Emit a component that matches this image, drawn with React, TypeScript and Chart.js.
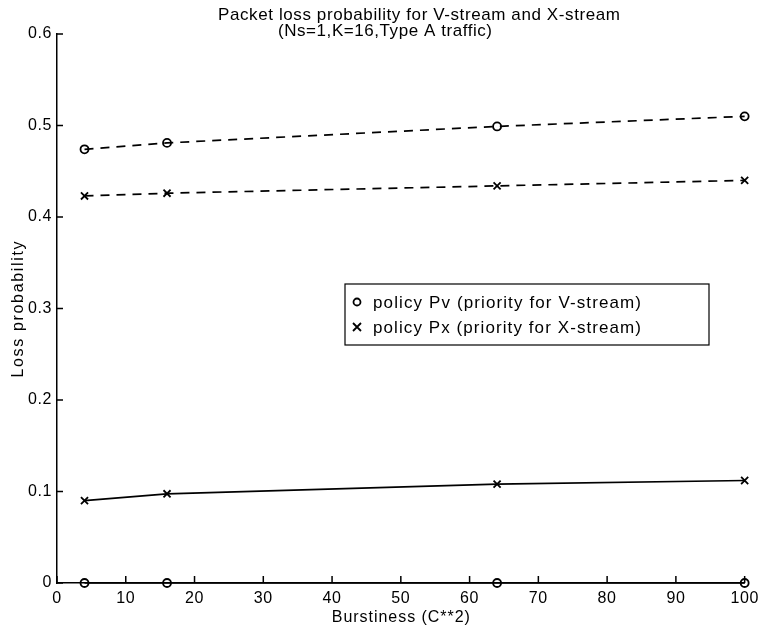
import React, { useEffect, useRef } from 'react';
import { Chart, registerables } from 'chart.js';

Chart.register(...registerables);

const xValues = [4, 16, 64, 100];
const pvVStream = [0.474, 0.481, 0.499, 0.510];
const pvXStream = [0, 0, 0, 0];
const pxXStream = [0.423, 0.426, 0.434, 0.440];
const pxVStream = [0.090, 0.0975, 0.108, 0.112];

const titleLines = ['Packet loss probability for V-stream and X-stream', '(Ns=1,K=16,Type A traffic)'];
const legendLabels = ['policy Pv (priority for V-stream)', 'policy Px (priority for X-stream)'];
const xTitle = 'Burstiness (C**2)';
const yTitle = 'Loss probability';

const FONT = '"Liberation Sans", Arial, Helvetica, sans-serif';

function drawMarker(ctx: CanvasRenderingContext2D, style: string, x: number, y: number, r: number) {
  ctx.beginPath();
  if (style === 'circle') {
    ctx.arc(x, y, r, 0, Math.PI * 2);
  } else {
    ctx.moveTo(x - r, y - r);
    ctx.lineTo(x + r, y + r);
    ctx.moveTo(x - r, y + r);
    ctx.lineTo(x + r, y - r);
  }
  ctx.stroke();
}

// draw text stretched to a target width with letter spacing
function spacedText(ctx: any, text: string, x: number, y: number, targetWidth: number, align: 'left' | 'center') {
  ctx.letterSpacing = '0px';
  const w = ctx.measureText(text).width;
  const sp = Math.max(0, (targetWidth - w) / Math.max(1, text.length - 1));
  ctx.letterSpacing = sp + 'px';
  ctx.textAlign = 'left';
  const startX = align === 'center' ? x - targetWidth / 2 : x;
  ctx.fillText(text, startX, y);
  ctx.letterSpacing = '0px';
}

const decorPlugin = {
  id: 'decor',
  beforeDraw(chart: any) {
    chart.ctx.letterSpacing = '0.6px';
  },
  afterDraw(chart: any) {
    const { ctx, chartArea, scales } = chart;
    ctx.letterSpacing = '0px';
    const xs = scales.x;
    const ys = scales.y;
    ctx.save();
    ctx.strokeStyle = '#000';
    ctx.fillStyle = '#000';
    ctx.lineWidth = 1.5;
    // inward ticks
    ctx.beginPath();
    xs.ticks.forEach((t: any) => {
      const px = xs.getPixelForValue(t.value);
      ctx.moveTo(px, chartArea.bottom);
      ctx.lineTo(px, chartArea.bottom - 7);
    });
    ys.ticks.forEach((t: any) => {
      const py = ys.getPixelForValue(t.value);
      ctx.moveTo(chartArea.left, py);
      ctx.lineTo(chartArea.left + 6, py);
    });
    ctx.stroke();

    ctx.font = '17px ' + FONT;
    ctx.textBaseline = 'alphabetic';
    // title
    spacedText(ctx, titleLines[0], 419, 20, 402, 'center');
    spacedText(ctx, titleLines[1], 385, 36, 214, 'center');

    // axis titles
    ctx.font = '16px ' + FONT;
    spacedText(ctx, xTitle, (chartArea.left + chartArea.right) / 2, 622, 138, 'center');
    ctx.save();
    ctx.translate(23, (chartArea.top + chartArea.bottom) / 2 + 1);
    ctx.rotate(-Math.PI / 2);
    spacedText(ctx, yTitle, 0, 0, 136, 'center');
    ctx.restore();

    // legend
    ctx.font = '17px ' + FONT;
    const bx = 345, by = 284, bw = 364, bh = 61;
    ctx.lineWidth = 1.2;
    ctx.strokeRect(bx, by, bw, bh);
    const styles = ['circle', 'crossRot'];
    const rowsY = [302, 327];
    ctx.textBaseline = 'middle';
    legendLabels.forEach((lab, i) => {
      ctx.lineWidth = 1.8;
      drawMarker(ctx, styles[i], 357, rowsY[i], styles[i] === 'circle' ? 3.5 : 4);
      spacedText(ctx, lab, 373, rowsY[i] + 1, 268, 'left');
    });
    ctx.restore();
  },
};

export default function App() {
  const ref = useRef<HTMLCanvasElement | null>(null);
  useEffect(() => {
    if (!ref.current) return;
    const common = {
      borderColor: '#000',
      pointBorderColor: '#000',
      pointBackgroundColor: 'rgba(0,0,0,0)',
      borderWidth: 1.7,
      pointBorderWidth: 1.8,
      clip: false as any,
      tension: 0,
    };
    const chart = new Chart(ref.current, {
      type: 'line',
      data: {
        datasets: [
          { ...common, label: 'Pv V', data: xValues.map((x, i) => ({ x, y: pvVStream[i] })), borderDash: [9, 7], pointStyle: 'circle', pointRadius: 4 },
          { ...common, label: 'Pv X', data: xValues.map((x, i) => ({ x, y: pvXStream[i] })), pointStyle: 'circle', pointRadius: 4 },
          { ...common, label: 'Px X', data: xValues.map((x, i) => ({ x, y: pxXStream[i] })), borderDash: [9, 7], pointStyle: 'crossRot', pointRadius: 5 },
          { ...common, label: 'Px V', data: xValues.map((x, i) => ({ x, y: pxVStream[i] })), pointStyle: 'crossRot', pointRadius: 5 },
        ],
      },
      options: {
        responsive: false,
        animation: false,
        layout: { padding: { top: 34, right: 18, left: 0, bottom: 0 } },
        plugins: { legend: { display: false }, tooltip: { enabled: false }, title: { display: false } },
        scales: {
          x: {
            type: 'linear',
            min: 0,
            max: 100,
            ticks: { stepSize: 10, color: '#000', font: { family: FONT, size: 16 }, padding: 6, maxRotation: 0 },
            grid: { display: false, drawTicks: false },
            border: { display: true, color: '#000', width: 1.5 },
            title: { display: false },
            afterFit: (s: any) => { s.height = 46; },
          },
          y: {
            type: 'linear',
            min: 0,
            max: 0.6,
            ticks: {
              stepSize: 0.1,
              color: '#000',
              font: { family: FONT, size: 16 },
              padding: 5,
              callback: (v: any) => (Number(v) === 0 ? '0' : Number(v).toFixed(1)),
            },
            grid: { display: false, drawTicks: false },
            border: { display: true, color: '#000', width: 1.5 },
            title: { display: false },
            afterFit: (s: any) => { s.width = 57; },
          },
        },
      },
      plugins: [decorPlugin],
    });
    return () => chart.destroy();
  }, []);
  return (
    <div style={{ position: 'fixed', left: 0, top: 0, width: 764, height: 629, background: '#fff' }}>
      <canvas ref={ref} width={764} height={629} />
    </div>
  );
}
